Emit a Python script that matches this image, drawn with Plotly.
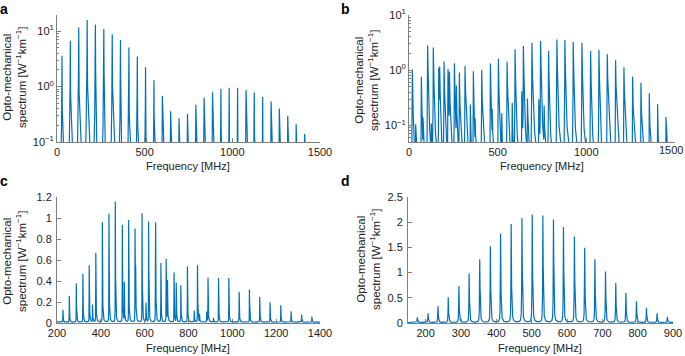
import numpy as np
import plotly.graph_objects as go

# ---------------- data (peak positions in MHz, peak heights in W^-1 km^-1) ----------------
a_freq = [28.5, 76, 124, 172, 219, 267, 315, 362, 410, 458, 505, 553, 601, 648, 696,
          744, 792, 839, 887, 935, 982, 1030, 1078, 1125, 1173, 1221, 1268, 1316, 1364, 1412]
a_amp = [3.58, 6.7, 11.6, 15.8, 13.2, 10.9, 8.8, 6.9, 5.07, 3.48, 2.23, 1.3, 0.68, 0.358, 0.268,
         0.32, 0.467, 0.633, 0.79, 0.91, 0.946, 0.946, 0.87, 0.78, 0.65, 0.536, 0.40, 0.295, 0.209, 0.14]

b_freq = [18.8, 37.6, 69.6, 79, 105, 126, 137, 167.5, 173, 197.6, 220, 228, 256, 267, 284,
          316, 346, 363, 373, 410, 459, 469, 504, 523, 553, 582, 598, 636, 645, 668, 693,
          700, 732, 742, 762, 787, 834, 879, 926, 975, 1024, 1071, 1118, 1165, 1212, 1261,
          1308, 1355, 1402, 1449]
b_amp = [1.03, 0.093, 0.76, 0.104, 2.8, 0.078, 2.55, 1.07, 1.03, 1.42, 1.03, 0.87, 1.32, 0.48, 0.89,
         1.18, 0.23, 0.95, 0.09, 1.0, 1.32, 0.145, 1.6, 0.145, 1.42, 0.245, 2.38, 0.40, 2.73, 0.28, 3.14,
         0.32, 0.28, 3.37, 0.19, 2.21, 3.6, 3.5, 3.23, 3.14, 2.21, 2.31, 1.93, 1.5, 1.13, 0.76,
         0.59, 0.38, 0.24, 0.14]

c_freq = [181, 227, 256, 288, 318, 347, 362, 377, 407, 437, 466, 498, 507, 527, 556, 559, 588,
          606, 618, 649, 650, 674, 698, 704, 734, 744, 765, 795, 826, 841, 850, 883, 889, 914,
          937, 984, 1031, 1078, 1125, 1172, 1221, 1268, 1316, 1363]
c_amp = [0.03, 0.117, 0.25, 0.37, 0.46, 0.54, 0.165, 0.66, 0.95, 1.03, 1.146, 0.925, 0.37, 0.97,
         0.884, 0.43, 1.035, 0.18, 0.954, 0.53, 0.66, 0.56, 0.60, 0.38, 0.47, 0.37, 0.35, 0.53,
         0.11, 0.54, 0.07, 0.10, 0.42, 0.04, 0.42, 0.42, 0.29, 0.31, 0.24, 0.19, 0.16, 0.104,
         0.073, 0.054]

d_freq = [176.5, 206.6, 234.8, 263.9, 294, 323, 353, 383, 412, 442, 472.5, 501.6, 531.7, 561.7,
          590, 621, 650, 679, 709, 738, 766.6, 796.6, 824.8, 855, 884]
d_amp = [0.10, 0.18, 0.32, 0.50, 0.72, 0.97, 1.25, 1.51, 1.76, 1.95, 2.07, 2.14, 2.12, 2.04,
         1.89, 1.70, 1.48, 1.25, 1.01, 0.78, 0.59, 0.42, 0.29, 0.18, 0.11]

x_ticks_a = [0, 500, 1000, 1500]
x_ticks_c = [200, 400, 600, 800, 1000, 1200, 1400]
x_ticks_d = [200, 300, 400, 500, 600, 700, 800, 900]
y_ticks_c = [0, 0.2, 0.4, 0.6, 0.8, 1, 1.2]
y_ticks_d = [0, 0.5, 1, 1.5, 2, 2.5]


def spectrum(freqs, amps, lo, hi, gl, gr, base=0.0):
    x = np.concatenate([np.linspace(lo, hi, 12001), np.array(freqs, float)])
    x = np.unique(x)
    y = np.full_like(x, base)
    for f, h in zip(freqs, amps):
        g = np.where(x < f, gl, gr)
        y += h / (1 + ((x - f) / g) ** 2)
    return x, y


W, H = 685, 356
BLUE = "#0072BD"
AX = "#7f7f7f"
FONT = "Liberation Sans, Arial, Helvetica, sans-serif"
TXT = "#222"

fig = go.Figure()
xa, ya = spectrum(a_freq, a_amp, 0, 1500, 0.6, 0.6)
xb, yb = spectrum(b_freq, b_amp, 0, 1500, 0.4, 2.0)
xc, yc = spectrum(c_freq, c_amp, 200, 1400, 0.35, 1.1, 0.008)
xd, yd = spectrum(d_freq, d_amp, 150, 900, 0.6, 1.0, 0.01)

for i, (x, y) in enumerate([(xa, ya), (xb, yb), (xc, yc), (xd, yd)]):
    s = "" if i == 0 else str(i + 1)
    fig.add_trace(go.Scatter(x=x, y=y, mode="lines", line=dict(color=BLUE, width=1.2),
                             xaxis="x" + s, yaxis="y" + s, showlegend=False, hoverinfo="skip"))


def px(xp):
    return xp / W


def py(yp):
    return 1 - yp / H


common_axis = dict(showline=True, linecolor=AX, linewidth=1, ticks="inside", ticklen=4,
                   tickcolor=AX, showgrid=False, zeroline=False, mirror=False, automargin=False,
                   tickfont=dict(family=FONT, size=11, color=TXT))

log_minor_a = [k * 10 ** e for e in (-1, 0, 1) for k in range(2, 10) if k * 10 ** e < 19.5]
log_minor_b = [k * 10 ** e for e in (-2, -1, 0) for k in range(2, 10) if k * 10 ** e > 0.05]
sup = ["10<sup>\u22121</sup>", "10<sup>0</sup>", "10<sup>1</sup>"]

layout = dict(
    width=W, height=H, margin=dict(l=0, r=0, t=0, b=0),
    paper_bgcolor="white", plot_bgcolor="white",
    xaxis=dict(common_axis, domain=[px(57), px(320)], range=[0, 1500], tickvals=x_ticks_a,
               anchor="y"),
    yaxis=dict(common_axis, domain=[py(142), py(15)], type="log", range=[-1, np.log10(19.5)],
               tickvals=[0.1, 1, 10], ticktext=sup, anchor="x",
               minor=dict(ticks="inside", ticklen=2, tickcolor=AX, tickvals=log_minor_a)),
    xaxis2=dict(common_axis, domain=[px(409), px(675)], range=[0, 1500], tickvals=x_ticks_a,
                ticktext=[str(v) for v in x_ticks_a[:-1]] + [""], anchor="y2"),
    yaxis2=dict(common_axis, domain=[py(142), py(15)], type="log", range=[np.log10(0.05), 1],
                tickvals=[0.1, 1, 10], ticktext=sup, anchor="x2",
                minor=dict(ticks="inside", ticklen=2, tickcolor=AX, tickvals=log_minor_b)),
    xaxis3=dict(common_axis, domain=[px(57), px(320)], range=[200, 1400], tickvals=x_ticks_c,
                anchor="y3"),
    yaxis3=dict(common_axis, domain=[py(323), py(197)], range=[0, 1.2], tickvals=y_ticks_c,
                ticktext=[str(v) for v in y_ticks_c], anchor="x3", ticklabelstandoff=2),
    xaxis4=dict(common_axis, domain=[px(408), px(673)], range=[150, 900], tickvals=x_ticks_d,
                anchor="y4"),
    yaxis4=dict(common_axis, domain=[py(323), py(197)], range=[0, 2.5], tickvals=y_ticks_d,
                ticktext=[str(v) for v in y_ticks_d], anchor="x4", ticklabelstandoff=2),
)
fig.update_layout(**layout)

ylab = "Opto-mechanical<br>spectrum [W<sup>\u22121</sup>km<sup>\u22121</sup>]"
ann = []
labels = [("a", 4, 9), ("b", 345, 9), ("c", 4, 181), ("d", 345, 181)]
for t, x, y in labels:
    ann.append(dict(text="<b>%s</b>" % t, x=px(x), y=py(y), xref="paper", yref="paper",
                    showarrow=False, xanchor="center", yanchor="middle",
                    font=dict(family=FONT, size=14, color="black")))
for x, y in [(14, 78), (366, 80), (14, 262), (368, 260)]:
    ann.append(dict(text=ylab, x=px(x), y=py(y), xref="paper", yref="paper", showarrow=False,
                    textangle=-90, xanchor="center", yanchor="middle",
                    font=dict(family=FONT, size=11.5, color=TXT)))
for x, y in [(188, 166), (542, 166), (188, 348), (540, 348)]:
    ann.append(dict(text="Frequency [MHz]", x=px(x), y=py(y), xref="paper", yref="paper",
                    showarrow=False, xanchor="center", yanchor="middle",
                    font=dict(family=FONT, size=11, color=TXT)))
# last x tick label of panel b, nudged left so it stays inside the page
ann.append(dict(text=str(x_ticks_a[-1]), x=x_ticks_a[-1], xref="x2", y=py(150), yref="paper",
                showarrow=False, xanchor="right", yanchor="middle", xshift=10,
                font=dict(family=FONT, size=11, color=TXT)))
fig.update_layout(annotations=ann)

fig.write_html("out.html", config={"displayModeBar": False},
               post_script="document.body.style.margin='0px';document.body.style.overflow='hidden';")
